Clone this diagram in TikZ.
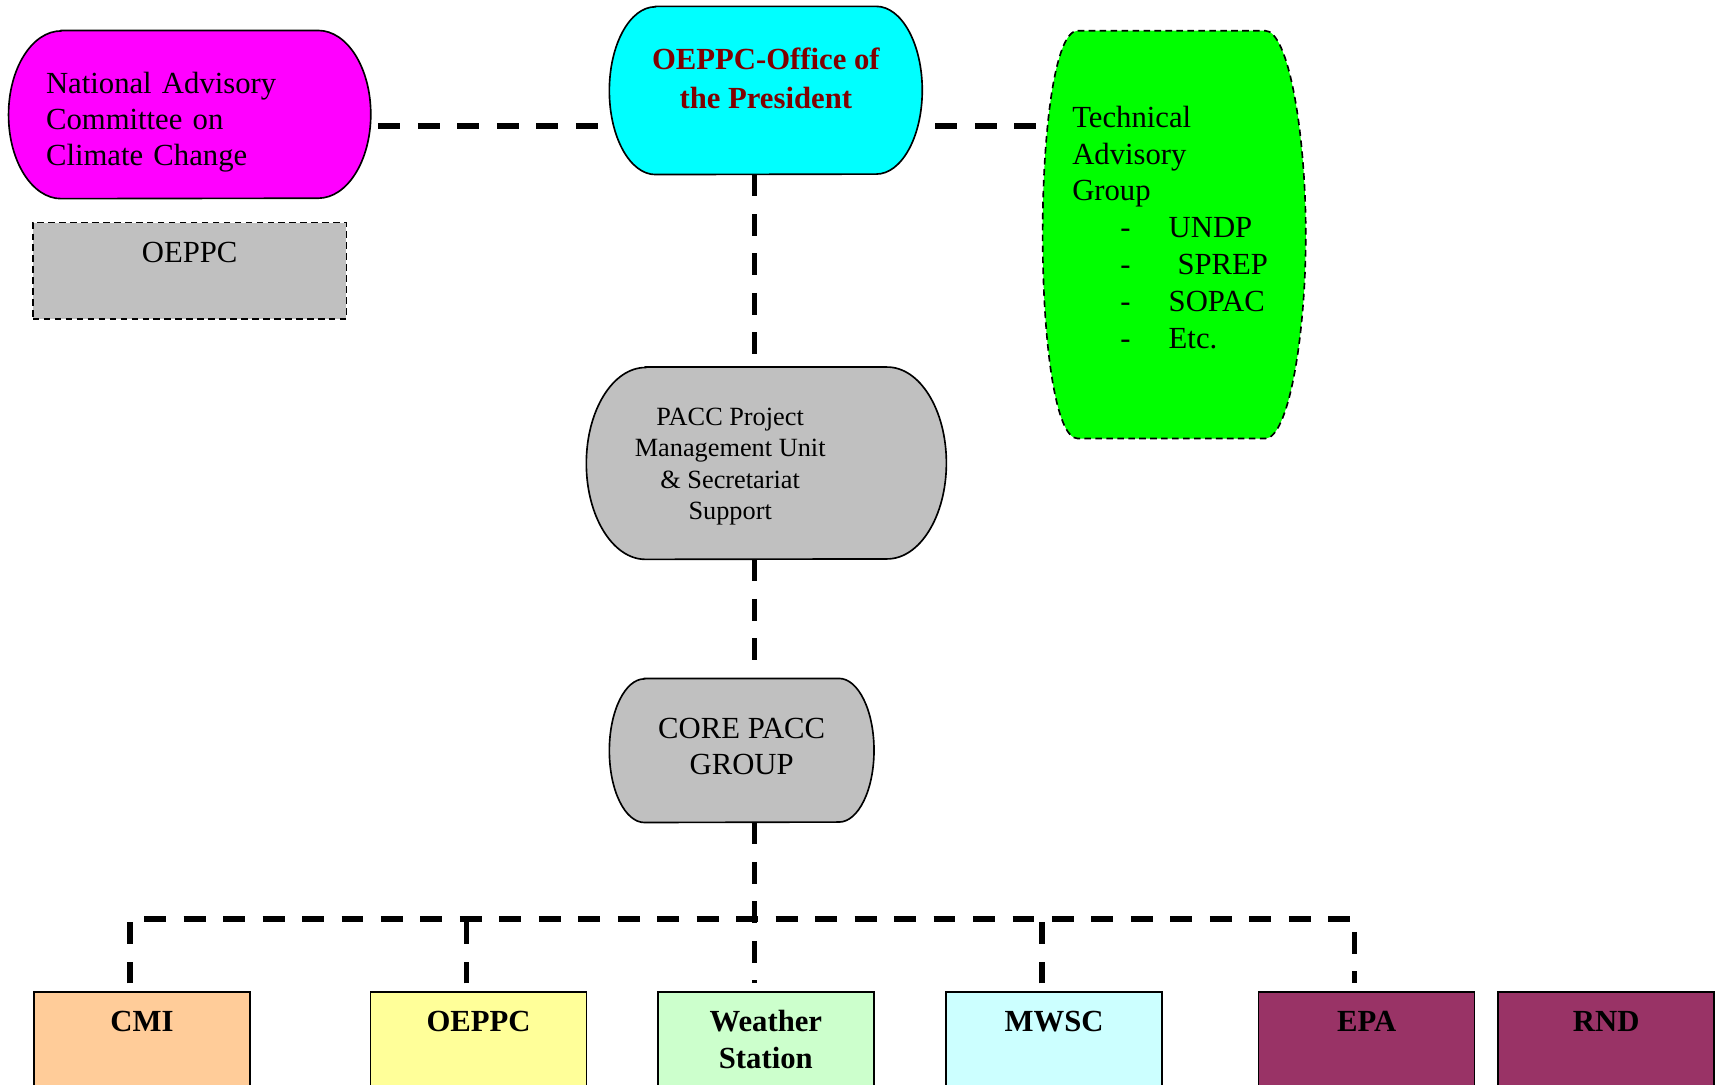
\documentclass[tikz,border=0pt]{standalone}
\usepackage{fontspec}
\setmainfont{Liberation Serif}
\usepackage{tikz}
\usetikzlibrary{backgrounds}

\definecolor{nacMagenta}{HTML}{FF00FF}
\definecolor{opCyan}{HTML}{00FFFF}
\definecolor{tagGreen}{HTML}{00FF00}
\definecolor{unitGray}{HTML}{C0C0C0}
\definecolor{presRed}{HTML}{800000}
\definecolor{cmiFill}{HTML}{FFCC99}
\definecolor{oeFill}{HTML}{FFFF99}
\definecolor{wsFill}{HTML}{CCFFCC}
\definecolor{mwFill}{HTML}{CCFFFF}
\definecolor{epaFill}{HTML}{993366}

\newcommand{\tagitem}[1]{\hspace*{44pt}\makebox[44pt][l]{-}#1}

\begin{document}
\begin{tikzpicture}[x=1pt,y=1pt,font=\fontsize{28}{33}\selectfont,
  unit/.style={shape=rectangle,draw=black,line width=1.5pt,inner sep=0pt},
  capsule/.style={shape=rectangle,inner sep=0pt},
  office/.style={unit,minimum width=197pt,minimum height=110pt,anchor=north},
  boxtext/.style={anchor=north,inner sep=0pt,align=center},
  officetext/.style={boxtext,yshift=-18pt,font=\fontsize{28}{34}\selectfont\bfseries},
  link/.style={line width=5pt,dash pattern=on 20pt off 16pt},
  fineline/.style={line width=1.5pt,dash pattern=on 6pt off 4pt}]
\clip (0,0) rectangle (1567,-989);

% top row
\node[capsule,minimum width=330pt,minimum height=153pt,label={[anchor=center,inner sep=0pt,text width=262pt,align=left,yshift=-7pt]center:National Advisory\\Committee on\\Climate Change}] (NAC) at (173,-104.5) {};
\node[unit,fineline,fill=unitGray,minimum width=286pt,minimum height=88pt,label={[boxtext,yshift=-18pt]north:OEPPC}] (OEg) at (173,-247) {};
\node[capsule,minimum width=285pt,minimum height=153pt,label={[boxtext,text=presRed,yshift=-38pt,font=\fontsize{28}{35}\selectfont\bfseries]north:OEPPC-Office of\\the President}] (OP) at (698.5,-82.5) {};
\draw[fineline,fill=tagGreen] (983,-28) -- (1154,-28) .. controls (1175,-28) and (1191,-120) .. (1191,-214) .. controls (1191,-308) and (1175,-400) .. (1154,-400) -- (983,-400) .. controls (962,-400) and (951,-308) .. (951,-214) .. controls (951,-120) and (962,-28) .. cycle;
\node[inner xsep=27pt,inner ysep=0pt,text width=186pt,minimum height=372pt,align=left,font=\fontsize{28}{33.7}\selectfont] (TAG) at (1071,-207.5) {Technical\\Advisory\\Group\\\tagitem{UNDP}\\\tagitem{\hspace*{8pt}SPREP}\\\tagitem{SOPAC}\\\tagitem{Etc.}};

% middle
\node[capsule,minimum width=328pt,minimum height=175pt,label={[anchor=center,align=center,inner sep=0pt,xshift=-33pt,yshift=-3pt,font=\fontsize{24}{28.5}\selectfont]center:PACC Project\\Management Unit\\\& Secretariat\\Support}] (PMU) at (699,-422.5) {};
\node[capsule,minimum width=241pt,minimum height=131pt,label={[anchor=center,align=center,inner sep=0pt,yshift=4pt]center:CORE PACC\\GROUP}] (CORE) at (676.5,-684.5) {};

% capsule outlines with elliptic ends
\begin{scope}[on background layer]
\foreach \n/\rx/\ry/\c in {NAC/48/76.5/nacMagenta,OP/42/76.5/opCyan,PMU/54/87.5/unitGray,CORE/32/65.5/unitGray}
  \draw[line width=1.5pt,fill=\c] ([xshift=\rx pt]\n.north west) -- ([xshift=-\rx pt]\n.north east)
    arc[start angle=90,end angle=-90,x radius=\rx pt,y radius=\ry pt]
    -- ([xshift=\rx pt]\n.south west)
    arc[start angle=270,end angle=90,x radius=\rx pt,y radius=\ry pt] -- cycle;
\end{scope}

% bottom row
\node[office,fill=cmiFill,label={[officetext]north:CMI}] (CMI) at (129.5,-904) {};
\node[office,fill=oeFill,label={[officetext]north:OEPPC}] (OEb) at (436.5,-904) {};
\node[office,fill=wsFill,label={[officetext,yshift=1pt]north:Weather\\Station}] (WS) at (698.5,-904) {};
\node[office,fill=mwFill,label={[officetext]north:MWSC}] (MWSC) at (961.5,-904) {};
\node[office,fill=epaFill,label={[officetext]north:EPA}] (EPA) at (1246.5,-904) {};
\node[office,fill=epaFill,label={[officetext]north:RND}] (RND) at (1465,-904) {};

% links
\coordinate (trunk) at (688,0);
\coordinate (bus) at (688,-838);
\draw[link] ([xshift=7pt]NAC.east |- 0,-115) -- (OP.west |- 0,-115);
\draw[link] ([xshift=12pt]OP.east |- 0,-115) -- (TAG.west |- 0,-115);
\draw[link] (OP.south -| trunk) -- (PMU.north -| trunk);
\draw[link] (PMU.south -| trunk) -- ([yshift=14pt]CORE.north -| trunk);
\draw[link] (CORE.south -| trunk) -- ([yshift=7pt]WS.north -| trunk);
\draw[link] ([xshift=-11pt,yshift=7pt]CMI.north) |- (bus) -| ([xshift=-11pt,yshift=7pt]EPA.north);
\foreach \o in {OEb,MWSC}
  \draw[link] ([xshift=-11pt,yshift=7pt]\o.north) -- ([xshift=-11pt]\o.north |- bus);
\end{tikzpicture}
\end{document}
